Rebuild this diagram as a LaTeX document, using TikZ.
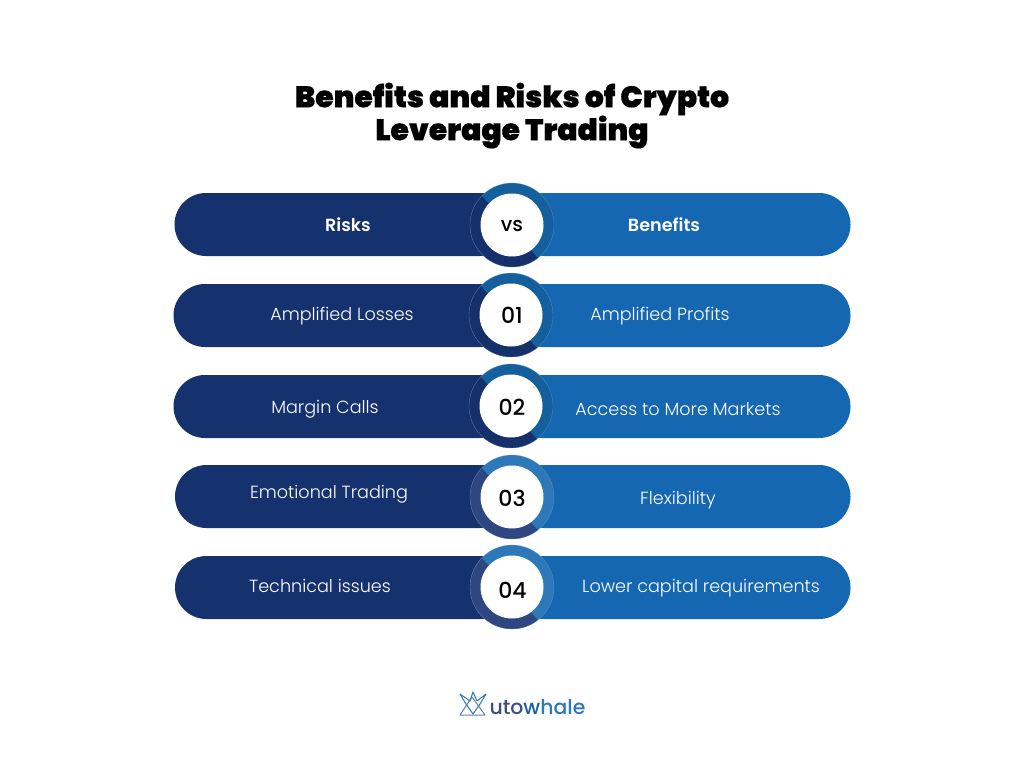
\documentclass[tikz,border=0pt]{standalone}
\usepackage{fontspec}
\setmainfont{Poppins}
\newfontfamily\titlefont[FakeBold=0.4]{Poppins Black}
\newfontfamily\labelfont{Poppins Light}
\newfontfamily\headfont{Poppins SemiBold}
\newfontfamily\numfont{Poppins Medium}
\definecolor{navy}{HTML}{15326F}
\definecolor{royal}{HTML}{1467B0}
\definecolor{ringA}{HTML}{14609F}
\definecolor{ringB}{HTML}{15306B}
\definecolor{ringC}{HTML}{2C78B8}
\definecolor{ringD}{HTML}{2E4780}
\definecolor{ringline}{HTML}{7F9CC4}
\tikzset{
  x=1pt,y=-1pt,
  bartext/.style={text=white,font=\labelfont\fontsize{17.6}{18}\selectfont,inner sep=0pt,anchor=center},
  headtext/.style={text=white,font=\headfont\fontsize{17.6}{18}\selectfont,inner sep=0pt,anchor=center},
  numtext/.style={text=black,font=\numfont\fontsize{22}{22}\selectfont,inner sep=0pt,anchor=center},
  titletext/.style={text=black,font=\titlefont\fontsize{29.8}{31}\selectfont,inner sep=0pt,anchor=center},
}
% #1 left x, #2 right x, #3 top y, #4 cx, #5 cy, #6 light ring, #7 dark ring
\newcommand{\rowshape}[7]{
  \fill[royal,rounded corners=31.5pt] (#4,#3) -- (#2,#3) -- (#2,#3+63) -- (#4,#3+63) -- cycle;
  \fill[royal] (#4,#3) rectangle (#4+40,#3+63);
  \fill[navy,rounded corners=31.5pt] (#4,#3) -- (#1,#3) -- (#1,#3+63) -- (#4,#3+63) -- cycle;
  \fill[navy] (#4-40,#3) rectangle (#4,#3+63);
  \fill[#6] (#4,#5) circle[radius=42];
  \begin{scope}
    \clip (#4-60,#5-62) -- (#4+52,#5+62) -- (#4-60,#5+62) -- cycle;
    \fill[#7] (#4,#5) circle[radius=42];
  \end{scope}
  \draw[ringline,line width=0.3pt,opacity=0.7] (#4,#5) circle[radius=42];
  \fill[white] (#4,#5) circle[radius=31.5];
}
\begin{document}
\begin{tikzpicture}
\useasboundingbox (0,0) rectangle (1024,768);
\fill[white] (0,0) rectangle (1024,768);
\node[titletext] (title1) at (512,99) {Benefits and Risks of Crypto};
\node[titletext] (title2) at (512,132) {Leverage Trading};
\rowshape{174.5}{850.5}{193}{512}{225}{ringA}{ringB}
\rowshape{173.5}{850.5}{284}{511}{315}{ringA}{ringB}
\rowshape{173.5}{850.5}{375}{511}{406}{ringA}{ringB}
\rowshape{175}{850.5}{465}{512}{497}{ringC}{ringD}
\rowshape{175}{850.5}{556}{512}{587}{ringC}{ringD}
\node[headtext] (risks) at (348,225) {Risks};
\node[headtext] (benefits) at (664,225) {Benefits};
\node[bartext] (l1) at (342,316) {Amplified Losses};
\node[bartext] (r1) at (660,316) {Amplified Profits};
\node[bartext] (l2) at (325,409) {Margin Calls};
\node[bartext] (r2) at (678,409) {Access to More Markets};
\node[bartext] (l3) at (329,494) {Emotional Trading};
\node[bartext] (r3) at (678,500) {Flexibility};
\node[bartext] (l4) at (320,586) {Technical issues};
\node[bartext] (r4) at (701,588) {Lower capital requirements};
\node[numtext] (vs) at (512,226) {\fontsize{20}{20}\selectfont vs};
\node[numtext] (n1) at (512,315) {01};
\node[numtext] (n2) at (512,407) {02};
\node[numtext] (n3) at (512,498) {03};
\node[numtext] (n4) at (512.5,590) {04};
% logo
\begin{scope}[line width=1pt,line join=round]
  \draw[color=ringD!70] (460,715) -- (472,697) -- (485,715) -- cycle;
  \draw[color=ringC] (460,694) -- (470,701) -- (473,692) -- (477,701) -- (486,694) -- (480,704) -- (473,714) -- (466,704) -- cycle;
\end{scope}
\node[inner sep=0pt,anchor=center,font=\numfont\fontsize{20.4}{21}\selectfont] (logo) at (537.5,707) {\textcolor{ringB!85}{uto}\textcolor{ringA}{w}\textcolor{ringC}{hale}};
\end{tikzpicture}
\end{document}
